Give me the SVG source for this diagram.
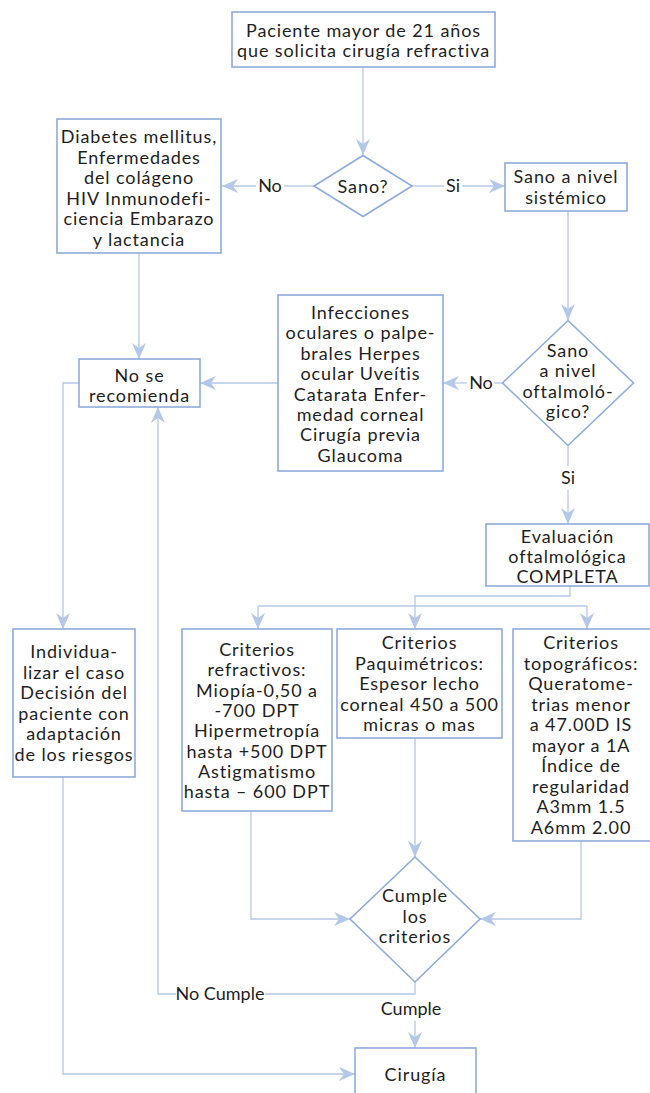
<svg xmlns="http://www.w3.org/2000/svg" width="650" height="1093" viewBox="0 0 650 1093">
<style>
.n{fill:#fff;stroke:#8eaadb;stroke-width:1.6}
.t{font-family:Lato,"Open Sans","DejaVu Sans",sans-serif;font-size:18px;letter-spacing:0.9px;fill:#1e1e1e;text-anchor:middle}
.l{font-family:Lato,"Open Sans","DejaVu Sans",sans-serif;font-size:18px;fill:#1e1e1e;text-anchor:middle}
.c{fill:none;stroke:#b4c7e7;stroke-width:1.3}
.a{marker-end:url(#ar)}
</style>
<defs>
<marker id="ar" markerUnits="userSpaceOnUse" markerWidth="16" markerHeight="14" viewBox="0 0 16 14" refX="16" refY="7" orient="auto">
<path d="M0,0 L16,7 L0,14 L5,7 Z" fill="#b4c7e7"/>
</marker>
</defs>
<rect width="650" height="1093" fill="#fff"/>
<g id="connectors">
<path class="c a" d="M363,67 V155"/>
<path class="c" d="M314,186 H284"/>
<path class="c a" d="M256,186 H222"/>
<path class="c" d="M412,186 H444"/>
<path class="c a" d="M462,186 H505"/>
<path class="c a" d="M568,211 V320"/>
<path class="c" d="M502,383 H494"/>
<path class="c a" d="M467,383 H443"/>
<path class="c a" d="M278,383 H200"/>
<path class="c a" d="M139,253 V359"/>
<path class="c a" d="M79,383 H63 V629"/>
<path class="c" d="M568,446 V466"/>
<path class="c a" d="M568,490 V524"/>
<path class="c a" d="M570,586 V596 H415 V629"/>
<path class="c a" d="M258,606 V629"/>
<path class="c" d="M258,606 H587"/>
<path class="c a" d="M587,606 V629"/>
<path class="c a" d="M63,777 V1074 H355"/>
<path class="c a" d="M251,811 V919 H350"/>
<path class="c a" d="M415,738 V857"/>
<path class="c a" d="M581,841 V919 H480"/>
<path class="c" d="M415,982 V994 H265"/>
<path class="c a" d="M176,994 H158 V407"/>
<path class="c a" d="M415,1021 V1048"/>
<text class="l" x="270" y="192">No</text>
<text class="l" x="453" y="192">Si</text>
<text class="l" x="481" y="389">No</text>
<text class="l" x="568" y="484">Si</text>
<text class="l" x="220" y="1000">No Cumple</text>
<text class="l" x="411" y="1015">Cumple</text>
</g>
<g id="n-paciente">
<rect class="n" x="232" y="12" width="263" height="55"/>
<text class="t"><tspan x="363.5" y="37">Paciente mayor de 21 años</tspan><tspan x="363.5" y="57">que solicita cirugía refractiva</tspan></text>
</g>
<g id="n-sano">
<polygon class="n" points="363,155.5 412,186 363,216.5 314,186"/>
<text class="t" x="363" y="192.5">Sano?</text>
</g>
<g id="n-diabetes">
<rect class="n" x="57" y="119" width="164" height="134"/>
<text class="t"><tspan x="139" y="143">Diabetes mellitus,</tspan><tspan x="139" y="163.5">Enfermedades</tspan><tspan x="139" y="184">del colágeno</tspan><tspan x="139" y="204.5">HIV Inmunodefi-</tspan><tspan x="139" y="225">ciencia Embarazo</tspan><tspan x="139" y="245.5">y lactancia</tspan></text>
</g>
<g id="n-sistemico">
<rect class="n" x="505" y="163" width="122" height="48"/>
<text class="t"><tspan x="566" y="183">Sano a nivel</tspan><tspan x="566" y="204">sistémico</tspan></text>
</g>
<g id="n-oftalmologico">
<polygon class="n" points="568,320.5 633.5,383 568,445.5 502.5,383"/>
<text class="t"><tspan x="568" y="357">Sano</tspan><tspan x="568" y="377.3">a nivel</tspan><tspan x="568" y="397.6">oftalmoló-</tspan><tspan x="568" y="418">gico?</tspan></text>
</g>
<g id="n-infecciones">
<rect class="n" x="278" y="295" width="165" height="176"/>
<text class="t"><tspan x="360.5" y="319">Infecciones</tspan><tspan x="360.5" y="339.4">oculares o palpe-</tspan><tspan x="360.5" y="359.8">brales Herpes</tspan><tspan x="360.5" y="380.2">ocular Uveítis</tspan><tspan x="360.5" y="400.6">Catarata Enfer-</tspan><tspan x="360.5" y="421">medad corneal</tspan><tspan x="360.5" y="441.4">Cirugía previa</tspan><tspan x="360.5" y="461.8">Glaucoma</tspan></text>
</g>
<g id="n-norecomienda">
<rect class="n" x="79" y="359" width="121" height="48"/>
<text class="t"><tspan x="139.5" y="381.5">No se</tspan><tspan x="139.5" y="402">recomienda</tspan></text>
</g>
<g id="n-evaluacion">
<rect class="n" x="486" y="524" width="163" height="62"/>
<text class="t"><tspan x="567.5" y="543">Evaluación</tspan><tspan x="567.5" y="563">oftalmológica</tspan><tspan x="567.5" y="583">COMPLETA</tspan></text>
</g>
<g id="n-individualizar">
<rect class="n" x="13" y="629" width="122" height="148"/>
<text class="t"><tspan x="74" y="658">Individua-</tspan><tspan x="74" y="678.6">lizar el caso</tspan><tspan x="74" y="699.2">Decisión del</tspan><tspan x="74" y="719.8">paciente con</tspan><tspan x="74" y="740.4">adaptación</tspan><tspan x="74" y="761">de los riesgos</tspan></text>
</g>
<g id="n-refractivos">
<rect class="n" x="182" y="629" width="150" height="182"/>
<text class="t"><tspan x="257" y="656">Criterios</tspan><tspan x="257" y="676.3">refractivos:</tspan><tspan x="257" y="696.6">Miopía-0,50 a</tspan><tspan x="257" y="716.9">-700 DPT</tspan><tspan x="257" y="737.2">Hipermetropía</tspan><tspan x="257" y="757.5">hasta +500 DPT</tspan><tspan x="257" y="777.8">Astigmatismo</tspan><tspan x="257" y="798">hasta – 600 DPT</tspan></text>
</g>
<g id="n-paquimetricos">
<rect class="n" x="337" y="629" width="165" height="109"/>
<text class="t"><tspan x="419.5" y="649">Criterios</tspan><tspan x="419.5" y="669.5">Paquimétricos:</tspan><tspan x="419.5" y="690">Espesor lecho</tspan><tspan x="419.5" y="710.5">corneal 450 a 500</tspan><tspan x="419.5" y="731">micras o mas</tspan></text>
</g>
<g id="n-topograficos">
<rect class="n" x="513" y="629" width="140" height="212"/>
<text class="t"><tspan x="581" y="649">Criterios</tspan><tspan x="581" y="669.5">topográficos:</tspan><tspan x="581" y="690">Queratome-</tspan><tspan x="581" y="710.5">trias menor</tspan><tspan x="581" y="731">a 47.00D IS</tspan><tspan x="581" y="751.5">mayor a 1A</tspan><tspan x="581" y="772">Índice de</tspan><tspan x="581" y="792.5">regularidad</tspan><tspan x="581" y="813">A3mm 1.5</tspan><tspan x="581" y="833.5">A6mm 2.00</tspan></text>
</g>
<g id="n-cumple">
<polygon class="n" points="415,857 480,919 415,982 350,919"/>
<text class="t"><tspan x="415" y="902">Cumple</tspan><tspan x="415" y="922.5">los</tspan><tspan x="415" y="943">criterios</tspan></text>
</g>
<g id="n-cirugia">
<rect class="n" x="355" y="1048" width="121" height="60"/>
<text class="t" x="415.5" y="1081">Cirugía</text>
</g>
</svg>
